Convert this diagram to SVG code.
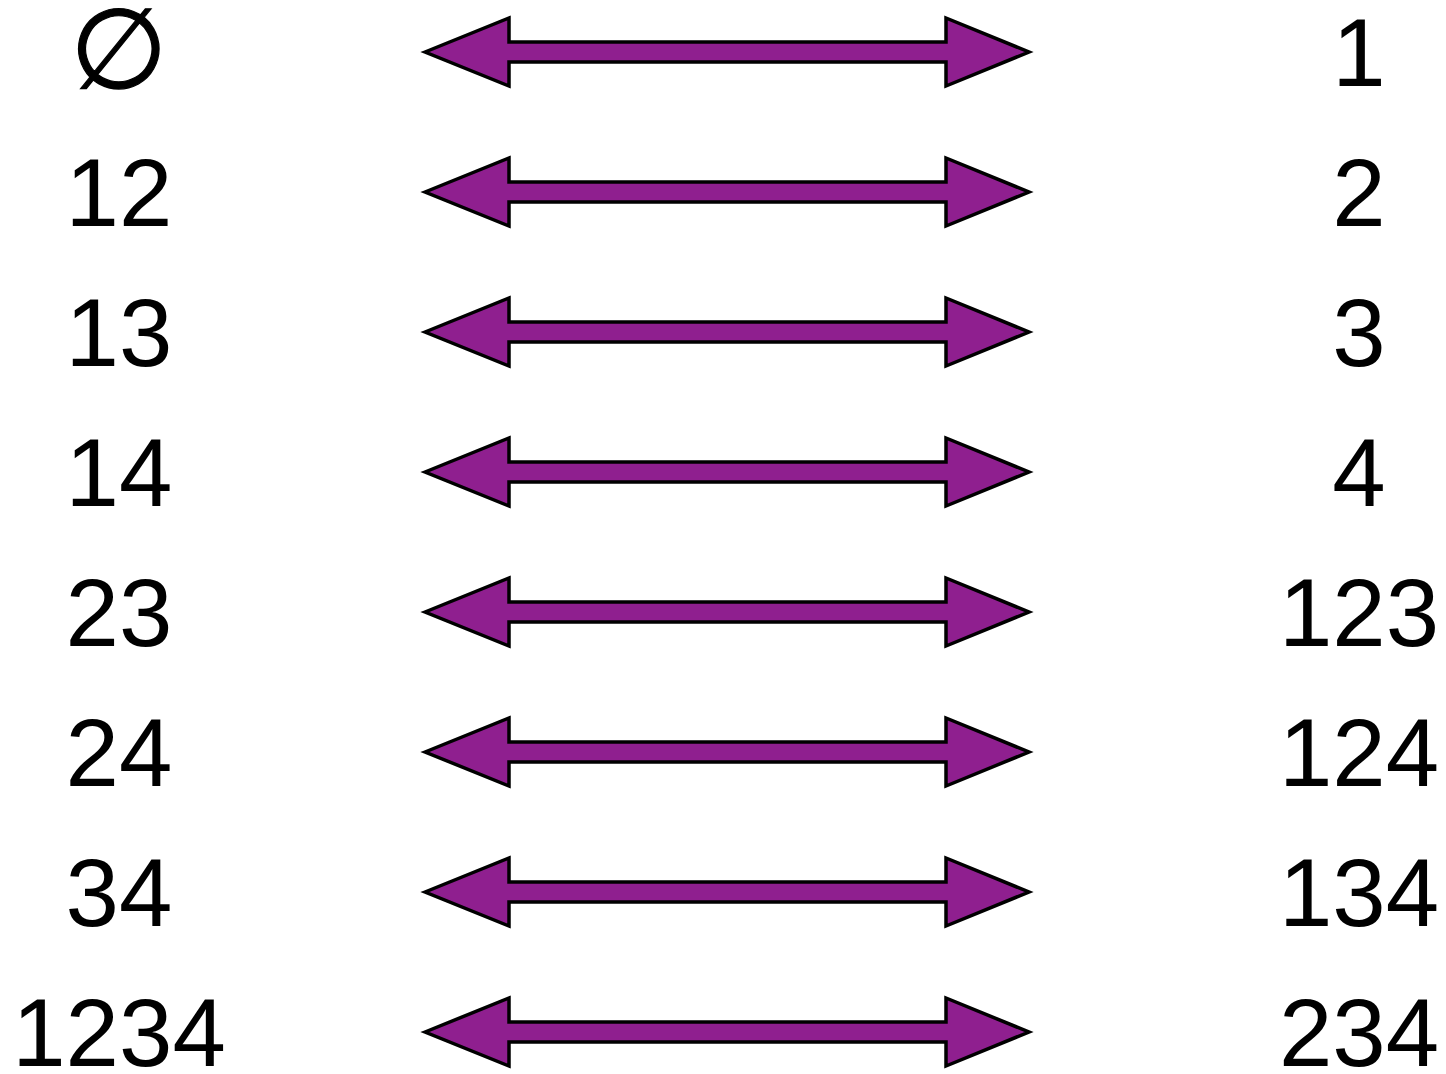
<svg xmlns="http://www.w3.org/2000/svg" xmlns:xlink="http://www.w3.org/1999/xlink" width="1446" height="1074" viewBox="0 0 1446 1074">
<style>
.t{font-family:"Liberation Sans",Arial,sans-serif;font-size:96px;fill:#000;text-anchor:middle}
.e{font-size:112px;stroke:#000;stroke-width:1.2}
.a{fill:#8F1F8F;stroke:#000;stroke-width:3.5;stroke-linejoin:miter}
</style>
<defs>
<path id="arr" d="M425,0 L509,-34 L509,-10 L946,-10 L946,-34 L1029,0 L946,34 L946,10 L509,10 L509,34 Z"/>
</defs>
<rect width="1446" height="1074" fill="#fff"/>
<g id="connectors">
<use xlink:href="#arr" class="a" transform="translate(0,52)"/>
<use xlink:href="#arr" class="a" transform="translate(0,192)"/>
<use xlink:href="#arr" class="a" transform="translate(0,332)"/>
<use xlink:href="#arr" class="a" transform="translate(0,472)"/>
<use xlink:href="#arr" class="a" transform="translate(0,612)"/>
<use xlink:href="#arr" class="a" transform="translate(0,752)"/>
<use xlink:href="#arr" class="a" transform="translate(0,892)"/>
<use xlink:href="#arr" class="a" transform="translate(0,1032)"/>
</g>
<g id="L0"><text class="t e" x="119" y="88">∅</text></g>
<g id="L1"><text class="t" x="119" y="226">12</text></g>
<g id="L2"><text class="t" x="119" y="366">13</text></g>
<g id="L3"><text class="t" x="119" y="506">14</text></g>
<g id="L4"><text class="t" x="119" y="646">23</text></g>
<g id="L5"><text class="t" x="119" y="786">24</text></g>
<g id="L6"><text class="t" x="119" y="926">34</text></g>
<g id="L7"><text class="t" x="119" y="1066">1234</text></g>
<g id="R0"><text class="t" x="1359" y="86">1</text></g>
<g id="R1"><text class="t" x="1359" y="226">2</text></g>
<g id="R2"><text class="t" x="1359" y="366">3</text></g>
<g id="R3"><text class="t" x="1359" y="506">4</text></g>
<g id="R4"><text class="t" x="1359" y="646">123</text></g>
<g id="R5"><text class="t" x="1359" y="786">124</text></g>
<g id="R6"><text class="t" x="1359" y="926">134</text></g>
<g id="R7"><text class="t" x="1359" y="1066">234</text></g>
</svg>
